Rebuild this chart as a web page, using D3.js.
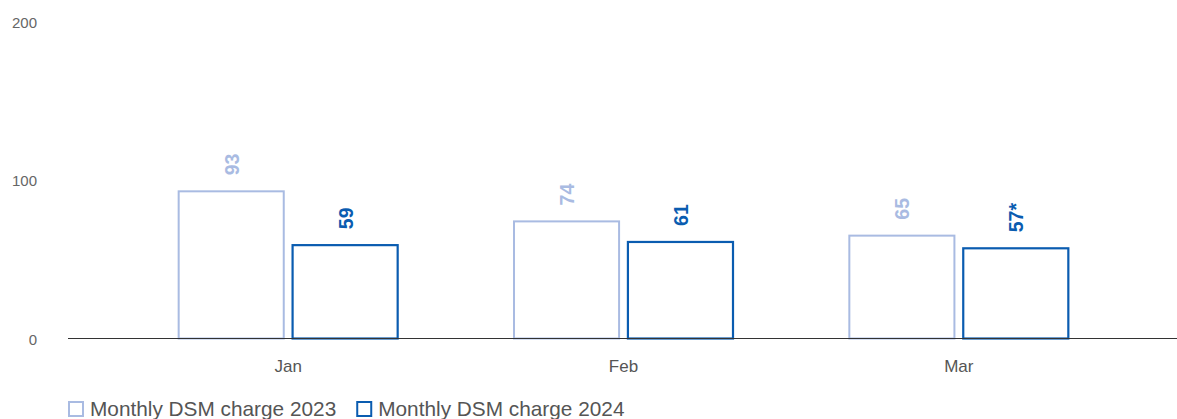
<!DOCTYPE html>
<html><head><meta charset="utf-8">
<script src="https://cdn.jsdelivr.net/npm/d3@7"></script>
<style>body{margin:0;background:#fff;font-family:"Liberation Sans",Arial,sans-serif;}</style>
</head><body><svg id="c" width="1177" height="419"></svg>
<script>
const categories = ["Jan", "Feb", "Mar"];
const seriesNames = ["Monthly DSM charge 2023", "Monthly DSM charge 2024"];
const values2023 = [93, 74, 65];
const values2024 = [59, 61, 57];
const labels2024 = ["59", "61", "57*"];
const yTicks = [0, 100, 200];
const colors = ["#a9bbe2", "#0a5cb0"];

const svg = d3.select("#c");
const y = d3.scaleLinear().domain([0, 200]).range([338.5, 22]);
const x = d3.scaleBand().domain(categories).range([120.5, 1126.5]).paddingInner(0).paddingOuter(0);
const inner = d3.scaleBand().domain([0, 1]).range([0, 221]).paddingInner(0.06);
const groupW = 221;

// y tick labels
svg.selectAll(".yt").data(yTicks).enter().append("text")
  .attr("x", 37).attr("y", d => y(d) + 6).attr("text-anchor", "end")
  .attr("font-size", 15).attr("fill", "#666").text(d => d);

const series = [values2023, values2024];
const lbls = [values2023.map(String), labels2024];
series.forEach((vals, s) => {
  categories.forEach((c, i) => {
    const bx = x(c) + (x.bandwidth() - groupW) / 2 + inner(s);
    svg.append("rect")
      .attr("x", bx + 1).attr("y", y(vals[i]))
      .attr("width", inner.bandwidth() - 2).attr("height", y(0) - y(vals[i]))
      .attr("fill", "none").attr("stroke", colors[s]).attr("stroke-width", s ? 2.2 : 2);
    const cx = bx + inner.bandwidth() / 2;
    const ly = y(vals[i]) - 16;
    svg.append("text")
      .attr("transform", `translate(${cx + 7.5},${ly}) rotate(-90)`)
      .attr("font-size", 19.5).attr("font-weight", "bold")
      .attr("fill", colors[s]).text(lbls[s][i]);
  });
});

// x axis line
svg.append("line").attr("x1", 68).attr("x2", 1177).attr("y1", y(0)).attr("y2", y(0))
  .attr("stroke", "#333").attr("stroke-width", 1);

svg.selectAll(".xl").data(categories).enter().append("text")
  .attr("x", d => x(d) + x.bandwidth() / 2).attr("y", 372).attr("text-anchor", "middle")
  .attr("font-size", 17).attr("fill", "#555").text(d => d);

// legend
let lx = 68;
seriesNames.forEach((n, s) => {
  svg.append("rect").attr("x", lx + 1).attr("y", 402).attr("width", 14).attr("height", 14)
    .attr("fill", "none").attr("stroke", colors[s]).attr("stroke-width", 2);
  const t = svg.append("text").attr("x", lx + 22).attr("y", 416)
    .attr("font-size", 20.8).attr("fill", "#555").text(n);
  lx += 22 + t.node().getComputedTextLength() + 20;
});
</script></body></html>
